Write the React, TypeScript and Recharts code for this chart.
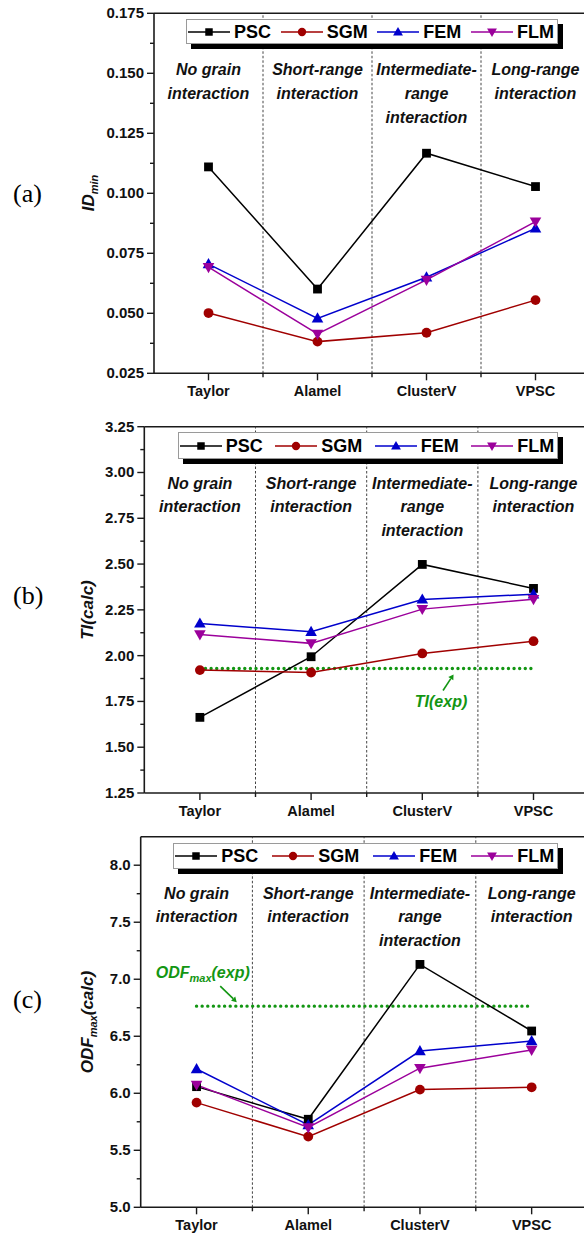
import { LineChart, Line, XAxis, YAxis, ReferenceLine, ReferenceDot, Legend } from 'recharts'

const models = ['Taylor', 'Alamel', 'ClusterV', 'VPSC']
const regions = [
  ['No grain', 'interaction'],
  ['Short-range', 'interaction'],
  ['Intermediate-', 'range', 'interaction'],
  ['Long-range', 'interaction'],
]

// (a) minimum ID
const idPSC = [0.111, 0.0601, 0.1167, 0.1028]
const idSGM = [0.0501, 0.0382, 0.0419, 0.0555]
const idFEM = [0.0705, 0.0479, 0.065, 0.0854]
const idFLM = [0.0692, 0.0414, 0.0639, 0.0882]
const idTicks = [0.025, 0.05, 0.075, 0.1, 0.125, 0.15, 0.175]

// (b) texture index
const tiPSC = [1.663, 1.994, 2.498, 2.367]
const tiSGM = [1.921, 1.908, 2.012, 2.079]
const tiFEM = [2.176, 2.13, 2.307, 2.335]
const tiFLM = [2.116, 2.067, 2.254, 2.308]
const tiExp = 1.93
const tiTicks = [1.25, 1.5, 1.75, 2.0, 2.25, 2.5, 2.75, 3.0, 3.25]

// (c) ODF maximum
const odfPSC = [6.058, 5.772, 7.13, 6.546]
const odfSGM = [5.918, 5.62, 6.032, 6.052]
const odfFEM = [6.213, 5.722, 6.37, 6.458]
const odfFLM = [6.074, 5.7, 6.22, 6.38]
const odfExp = 6.764
const odfTicks = [5.0, 5.5, 6.0, 6.5, 7.0, 7.5, 8.0]

const FONT = "'Liberation Sans', Arial, Helvetica, sans-serif"
const SERIF = "'Liberation Serif', 'Times New Roman', serif"
const AXIS = '#1a1a1a'
const GREEN = '#139613'
const CHART_W = 600
const Y_AXIS_W = 50

const series = [
  { key: 'PSC', color: '#000000', shape: 'square' },
  { key: 'SGM', color: '#a00000', shape: 'circle' },
  { key: 'FEM', color: '#0000cc', shape: 'up' },
  { key: 'FLM', color: '#9b009b', shape: 'down' },
]

function Marker({ cx, cy, shape, color, scale = 1 }: any) {
  if (cx == null || cy == null) return null
  const s = scale
  if (shape === 'square') {
    return <rect x={cx - 4.4 * s} y={cy - 4.4 * s} width={8.8 * s} height={8.8 * s} fill={color} />
  }
  if (shape === 'circle') {
    return <circle cx={cx} cy={cy} r={4.9 * s} fill={color} />
  }
  if (shape === 'up') {
    return (
      <polygon
        points={`${cx},${cy - 6 * s} ${cx + 5.8 * s},${cy + 4.2 * s} ${cx - 5.8 * s},${cy + 4.2 * s}`}
        fill={color}
      />
    )
  }
  return (
    <polygon
      points={`${cx},${cy + 6 * s} ${cx + 5.8 * s},${cy - 4.2 * s} ${cx - 5.8 * s},${cy - 4.2 * s}`}
      fill={color}
    />
  )
}

function buildRows(psc: number[], sgm: number[], fem: number[], flm: number[]) {
  return models.map((m, i) => ({ x: i + 1, model: m, PSC: psc[i], SGM: sgm[i], FEM: fem[i], FLM: flm[i] }))
}

// major ticks plus a minor tick halfway between each pair
function withMinor(majors: number[]) {
  const out: number[] = []
  majors.forEach((v, i) => {
    out.push(v)
    if (i < majors.length - 1) out.push((v + majors[i + 1]) / 2)
  })
  return out
}

const xTicks = [1, 1.5, 2, 2.5, 3, 3.5, 4]

function XTick({ x, y, payload }: any) {
  const v = payload.value
  const major = Number.isInteger(v)
  return (
    <g>
      <line x1={x} x2={x} y1={y} y2={y + (major ? 7 : 4)} stroke={AXIS} strokeWidth={1.4} />
      {major && (
        <text x={x} y={y + 23} textAnchor="middle" fontFamily={FONT} fontWeight="bold" fontSize={14.5} fill="#111">
          {models[v - 1]}
        </text>
      )}
    </g>
  )
}

function makeYTick(majors: number[], digits: number) {
  return ({ x, y, payload }: any) => {
    const major = majors.some((m) => Math.abs(m - payload.value) < 1e-9)
    return (
      <g>
        <line x1={x - (major ? 7 : 4)} x2={x} y1={y} y2={y} stroke={AXIS} strokeWidth={1.4} />
        {major && (
          <text x={x - 10} y={y + 5} textAnchor="end" fontFamily={FONT} fontWeight="bold" fontSize={15} fill="#111">
            {payload.value.toFixed(digits)}
          </text>
        )}
      </g>
    )
  }
}

function LegendBox({ width, height }: any) {
  return (
    <div
      style={{
        boxSizing: 'border-box',
        width,
        height,
        background: '#fff',
        border: '1px solid #9a9a9a',
        boxShadow: '5px 5px 0 #000',
        display: 'flex',
        alignItems: 'center',
        justifyContent: 'space-between',
        padding: '0 3px 0 1px',
        fontFamily: FONT,
        fontWeight: 'bold',
        fontSize: 18,
      }}
    >
      {series.map((s) => (
        <div key={s.key} style={{ display: 'flex', alignItems: 'center' }}>
          <svg width={42} height={14}>
            <line x1={0} x2={42} y1={7} y2={7} stroke={s.color} strokeWidth={1.5} />
            <Marker cx={21} cy={7} shape={s.shape} color={s.color} scale={0.85} />
          </svg>
          <span style={{ marginLeft: 4, color: '#000', lineHeight: 1 }}>{s.key}</span>
        </div>
      ))}
    </div>
  )
}

function RegionText({ cx, cy }: any, lines: string[]) {
  return (
    <text textAnchor="middle" fontFamily={FONT} fontWeight="bold" fontStyle="italic" fontSize={16} fill="#111">
      {lines.map((t, i) => (
        <tspan key={i} x={cx} y={cy + 62 + i * 23.7}>
          {t}
        </tspan>
      ))}
    </text>
  )
}

function Panel({ cfg }: any) {
  const yMax = cfg.domain[1]
  const yTicks = withMinor(cfg.majors)
  return (
    <div style={{ position: 'absolute', left: 0, top: cfg.top, width: CHART_W, height: cfg.height }}>
      <LineChart width={CHART_W} height={cfg.height} data={cfg.rows} margin={cfg.margin}>
        <XAxis
          dataKey="x"
          type="number"
          domain={[0.5, 4.5]}
          ticks={xTicks}
          interval={0}
          height={25}
          tickSize={0}
          tickMargin={0}
          tickLine={false}
          tick={<XTick />}
          axisLine={{ stroke: AXIS, strokeWidth: 1.6 }}
        />
        <YAxis
          type="number"
          domain={cfg.domain}
          ticks={yTicks}
          interval={0}
          width={Y_AXIS_W}
          tickSize={0}
          tickMargin={0}
          tickLine={false}
          tick={makeYTick(cfg.majors, cfg.digits)}
          axisLine={{ stroke: AXIS, strokeWidth: 1.6 }}
        />
        <ReferenceLine y={yMax} stroke={AXIS} strokeWidth={1.6} />
        {[1.5, 2.5, 3.5].map((v) => (
          <ReferenceLine key={v} x={v} stroke="#444" strokeWidth={1} strokeDasharray="2.5 2" />
        ))}
        {regions.map((lines, i) => (
          <ReferenceDot
            key={i}
            x={i + 1}
            y={yMax}
            r={0}
            ifOverflow="visible"
            shape={(p: any) => RegionText(p, lines)}
          />
        ))}
        {cfg.exp != null && (
          <ReferenceLine
            segment={[
              { x: 1, y: cfg.exp },
              { x: 4, y: cfg.exp },
            ]}
            stroke={GREEN}
            strokeWidth={3.4}
            strokeLinecap="round"
            strokeDasharray="0.01 5.6"
          />
        )}
        {cfg.note && (
          <ReferenceDot x={cfg.note.x} y={cfg.exp} r={0} ifOverflow="visible" shape={cfg.note.render} />
        )}
        {series.map((s) => (
          <Line
            key={s.key}
            dataKey={s.key}
            stroke={s.color}
            strokeWidth={1.5}
            isAnimationActive={false}
            activeDot={false}
            dot={(p: any) => (
              <Marker key={`${s.key}-${p.index}`} cx={p.cx} cy={p.cy} shape={s.shape} color={s.color} />
            )}
          />
        ))}
        <Legend
          layout="horizontal"
          verticalAlign="middle"
          align="center"
          wrapperStyle={{ left: cfg.legend.left, top: cfg.legend.top, width: cfg.legend.width, height: cfg.legend.height }}
          content={() => <LegendBox width={cfg.legend.width} height={cfg.legend.height} />}
        />
      </LineChart>
      <svg
        width={CHART_W}
        height={cfg.height}
        style={{ position: 'absolute', left: 0, top: 0, pointerEvents: 'none' }}
      >
        <text x={13} y={cfg.letterY} fontFamily={SERIF} fontSize={26} fill="#000">
          {cfg.letter}
        </text>
        <text
          transform={`translate(${cfg.titleX},${cfg.titleY}) rotate(-90)`}
          textAnchor="middle"
          fontFamily={FONT}
          fontWeight="bold"
          fontStyle="italic"
          fontSize={17}
          fill="#111"
        >
          {cfg.title}
        </text>
      </svg>
    </div>
  )
}

function Arrow({ x1, y1, x2, y2 }: any) {
  const a = Math.atan2(y2 - y1, x2 - x1)
  const h = 5
  const w = 3
  const bx = x2 - h * Math.cos(a)
  const by = y2 - h * Math.sin(a)
  const px = -Math.sin(a) * w
  const py = Math.cos(a) * w
  return (
    <g>
      <line x1={x1} y1={y1} x2={bx} y2={by} stroke={GREEN} strokeWidth={1.6} />
      <polygon points={`${x2},${y2} ${bx + px},${by + py} ${bx - px},${by - py}`} fill={GREEN} />
    </g>
  )
}

const panels = [
  {
    top: 0,
    height: 405,
    margin: { top: 13.3, right: 10, bottom: 6.7, left: 154 - Y_AXIS_W },
    domain: [0.025, 0.175],
    majors: idTicks,
    digits: 3,
    rows: buildRows(idPSC, idSGM, idFEM, idFLM),
    legend: { left: 186, top: 19, width: 372, height: 25 },
    letter: '(a)',
    letterY: 202,
    titleX: 94,
    titleY: 193,
    title: (
      <>
        ID
        <tspan fontSize={11} dy={4}>
          min
        </tspan>
      </>
    ),
  },
  {
    top: 405,
    height: 415,
    margin: { top: 21.7, right: 10.9, bottom: 2, left: 144.3 - Y_AXIS_W },
    domain: [1.25, 3.25],
    majors: tiTicks,
    digits: 2,
    rows: buildRows(tiPSC, tiSGM, tiFEM, tiFLM),
    legend: { left: 177.7, top: 27.3, width: 380.6, height: 27 },
    letter: '(b)',
    letterY: 199,
    titleX: 93,
    titleY: 205,
    title: <>TI(calc)</>,
    exp: tiExp,
    note: {
      x: 3.2,
      render: ({ cx, cy }: any) => (
        <g>
          <Arrow x1={cx - 1.5} y1={cy + 22} x2={cx + 9} y2={cy + 6} />
          <text
            x={cx - 3.5}
            y={cy + 39}
            textAnchor="middle"
            fontFamily={FONT}
            fontWeight="bold"
            fontStyle="italic"
            fontSize={16}
            fill={GREEN}
          >
            TI(exp)
          </text>
        </g>
      ),
    },
  },
  {
    top: 820,
    height: 416,
    margin: { top: 16.7, right: 12.5, bottom: 3.7, left: 140.7 - Y_AXIS_W },
    domain: [5.0, 8.25],
    majors: odfTicks,
    digits: 1,
    rows: buildRows(odfPSC, odfSGM, odfFEM, odfFLM),
    legend: { left: 173.3, top: 22.7, width: 385, height: 26.6 },
    letter: '(c)',
    letterY: 188,
    titleX: 93,
    titleY: 202,
    title: (
      <>
        ODF
        <tspan fontSize={11} dy={4}>
          max
        </tspan>
        <tspan dy={-4}>(calc)</tspan>
      </>
    ),
    exp: odfExp,
    note: {
      x: 1.4,
      render: ({ cx, cy }: any) => (
        <g>
          <text
            x={cx - 85.5}
            y={cy - 28}
            fontFamily={FONT}
            fontWeight="bold"
            fontStyle="italic"
            fontSize={16}
            fill={GREEN}
          >
            ODF
            <tspan fontSize={11} dy={4}>
              max
            </tspan>
            <tspan dy={-4}>(exp)</tspan>
          </text>
          <Arrow x1={cx - 21} y1={cy - 20} x2={cx - 4.5} y2={cy - 4} />
        </g>
      ),
    },
  },
]

export default function App() {
  return (
    <div
      style={{
        position: 'absolute',
        left: 0,
        top: 0,
        width: 584,
        height: 1236,
        overflow: 'hidden',
        background: '#fff',
      }}
    >
      {panels.map((cfg) => (
        <Panel key={cfg.letter} cfg={cfg} />
      ))}
    </div>
  )
}
